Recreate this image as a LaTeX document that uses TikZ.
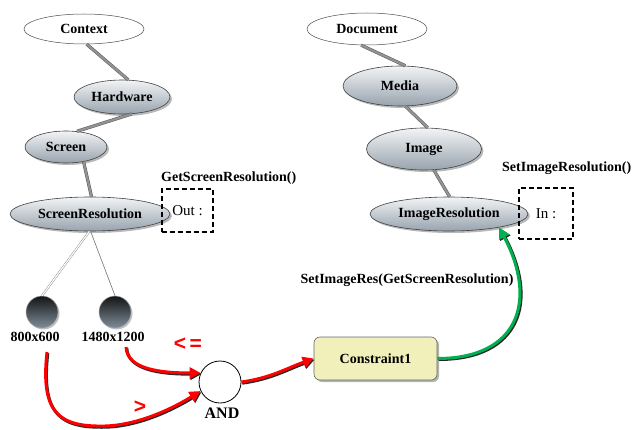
\documentclass[tikz,border=0pt]{standalone}
\usepackage{fontspec}
\setmainfont{Liberation Serif}
\newfontfamily\labsans{Liberation Sans}
\usetikzlibrary{shapes.geometric,shadows,arrows.meta}
\definecolor{elTop}{HTML}{F2F4F6}
\definecolor{elBot}{HTML}{98A3AD}
\definecolor{ballBot}{HTML}{7E8D9A}
\definecolor{consFill}{HTML}{F2F0BA}
\definecolor{arrRed}{HTML}{FF0000}
\definecolor{arrGreen}{HTML}{00B050}
\tikzset{
  bfont/.style={font=\bfseries\fontsize{14}{16}\selectfont},
  lbl/.style={bfont, inner sep=0pt},
  topel/.style={ellipse, draw=black!70, fill=white, line width=0.5pt, inner sep=0pt, bfont},
  grayel/.style={ellipse, draw=black!75, line width=0.6pt, top color=elTop, bottom color=elBot,
    inner sep=0pt, bfont, drop shadow={shadow xshift=2pt, shadow yshift=-2pt, opacity=0.55}},
  link/.style={draw=black!65, line width=0.5pt, double=gray!85, double distance=2.2pt},
  ball/.style={circle, draw=gray!70, line width=0.5pt, minimum size=32pt, inner sep=0pt,
    top color=black!92, bottom color=ballBot,
    drop shadow={shadow xshift=1.5pt, shadow yshift=-1.5pt, opacity=0.5}},
  iobox/.style={draw=black, dash pattern=on 5pt off 3pt, line width=1.6pt, inner sep=0pt,
    font=\fontsize{15}{17}\selectfont},
  redarrow/.style={draw=arrRed, line width=3pt, -{Triangle[length=11pt,width=11pt]},
    preaction={draw=black!85, line width=3pt, -{Triangle[length=11pt,width=11pt]},
      transform canvas={shift={(0.8pt,-1.2pt)}}}},
  greenarrow/.style={draw=arrGreen, line width=3pt, -{Triangle[length=11pt,width=11pt]},
    preaction={draw=black!85, line width=3pt, -{Triangle[length=11pt,width=11pt]},
      transform canvas={shift={(1.2pt,-1pt)}}}},
  consbox/.style={draw=gray!80!black, line width=0.6pt, fill=consFill, rounded corners=6pt,
    minimum width=123pt, minimum height=43pt, bfont,
    drop shadow={shadow xshift=2pt, shadow yshift=-2pt, opacity=0.6}},
  redtext/.style={text=arrRed, font=\labsans\bfseries\fontsize{21}{23}\selectfont, inner sep=0pt},
}
\begin{document}
\begin{tikzpicture}[x=1pt,y=1pt]
\useasboundingbox (0,0) rectangle (636,429);
% left hierarchy
\node[topel, minimum width=120pt, minimum height=30pt] (ctx) at (84,400) {Context};
\node[grayel, minimum width=96pt, minimum height=34pt] (hw) at (122,332) {Hardware};
\node[grayel, minimum width=82pt, minimum height=32pt] (scr) at (66,282) {Screen};
\node[grayel, minimum width=160pt, minimum height=34pt] (sr) at (90,215) {ScreenResolution};
\node[iobox, minimum width=51pt, minimum height=43pt] (out) at (187.5,218.5) {Out :};
\node[lbl, anchor=west] (gsr) at (161,251) {GetScreenResolution()};
\draw[link] (ctx.-80) -- (hw.70);
\draw[link] (hw.-60) -- (scr.55);
\draw[link] (scr.-40) -- (sr.85);
% right hierarchy
\node[topel, minimum width=120pt, minimum height=32pt] (doc) at (367,400) {Document};
\node[grayel, minimum width=114pt, minimum height=40pt] (med) at (400,343) {Media};
\node[grayel, minimum width=115pt, minimum height=42pt] (img) at (424,280) {Image};
\node[grayel, minimum width=158pt, minimum height=34pt] (ir) at (449,215) {ImageResolution};
\node[iobox, minimum width=54pt, minimum height=51pt] (in) at (546,215.5) {In :};
\node[lbl, anchor=west] (sir) at (502,261) {SetImageResolution()};
\draw[link] (doc.-110) -- (med.75);
\draw[link] (med.-75) -- (img.80);
\draw[link] (img.-65) -- (ir.88);
% values
\node[ball] (b1) at (42,117) {};
\node[ball] (b2) at (115,117) {};
\node[lbl] (l1) at (35,92) {800x600};
\node[lbl] (l2) at (113,92) {1480x1200};
\draw[draw=gray, line width=0.4pt, double=white, double distance=1.2pt] (sr.-92) -- (b1.north);
\draw[draw=gray, line width=0.7pt] (sr.-88) -- (b2.north);
% AND and constraint
\node[circle, draw=black, line width=0.8pt, fill=white, minimum size=42pt, inner sep=0pt] (and) at (220,47) {};
\node[inner sep=0pt, font=\bfseries\fontsize{16}{18}\selectfont] (andl) at (222,16) {AND};
\node[consbox] (cons) at (375.5,70.5) {Constraint1};
\node[lbl] (sirl) at (407,149) {SetImageRes(GetScreenResolution)};
\node[redtext] (le) at (188,85) {<\,=};
\node[redtext] (gt) at (140,22) {>};
\coordinate (s2) at (126,82);
\coordinate (s1) at (47,77);
\draw[redarrow] (s2) .. controls (127,60) and (160,56) .. (and.155);
\draw[redarrow] (s1) .. controls (40,15) and (60,2) .. (105,3) .. controls (140,4) and (175,22) .. (and.-155);
\draw[redarrow] (and.east) to[out=8, in=200] (cons.west);
\draw[greenarrow] (cons.east) to[out=0, in=-62, looseness=1.45] (ir.-15);
\end{tikzpicture}
\end{document}
